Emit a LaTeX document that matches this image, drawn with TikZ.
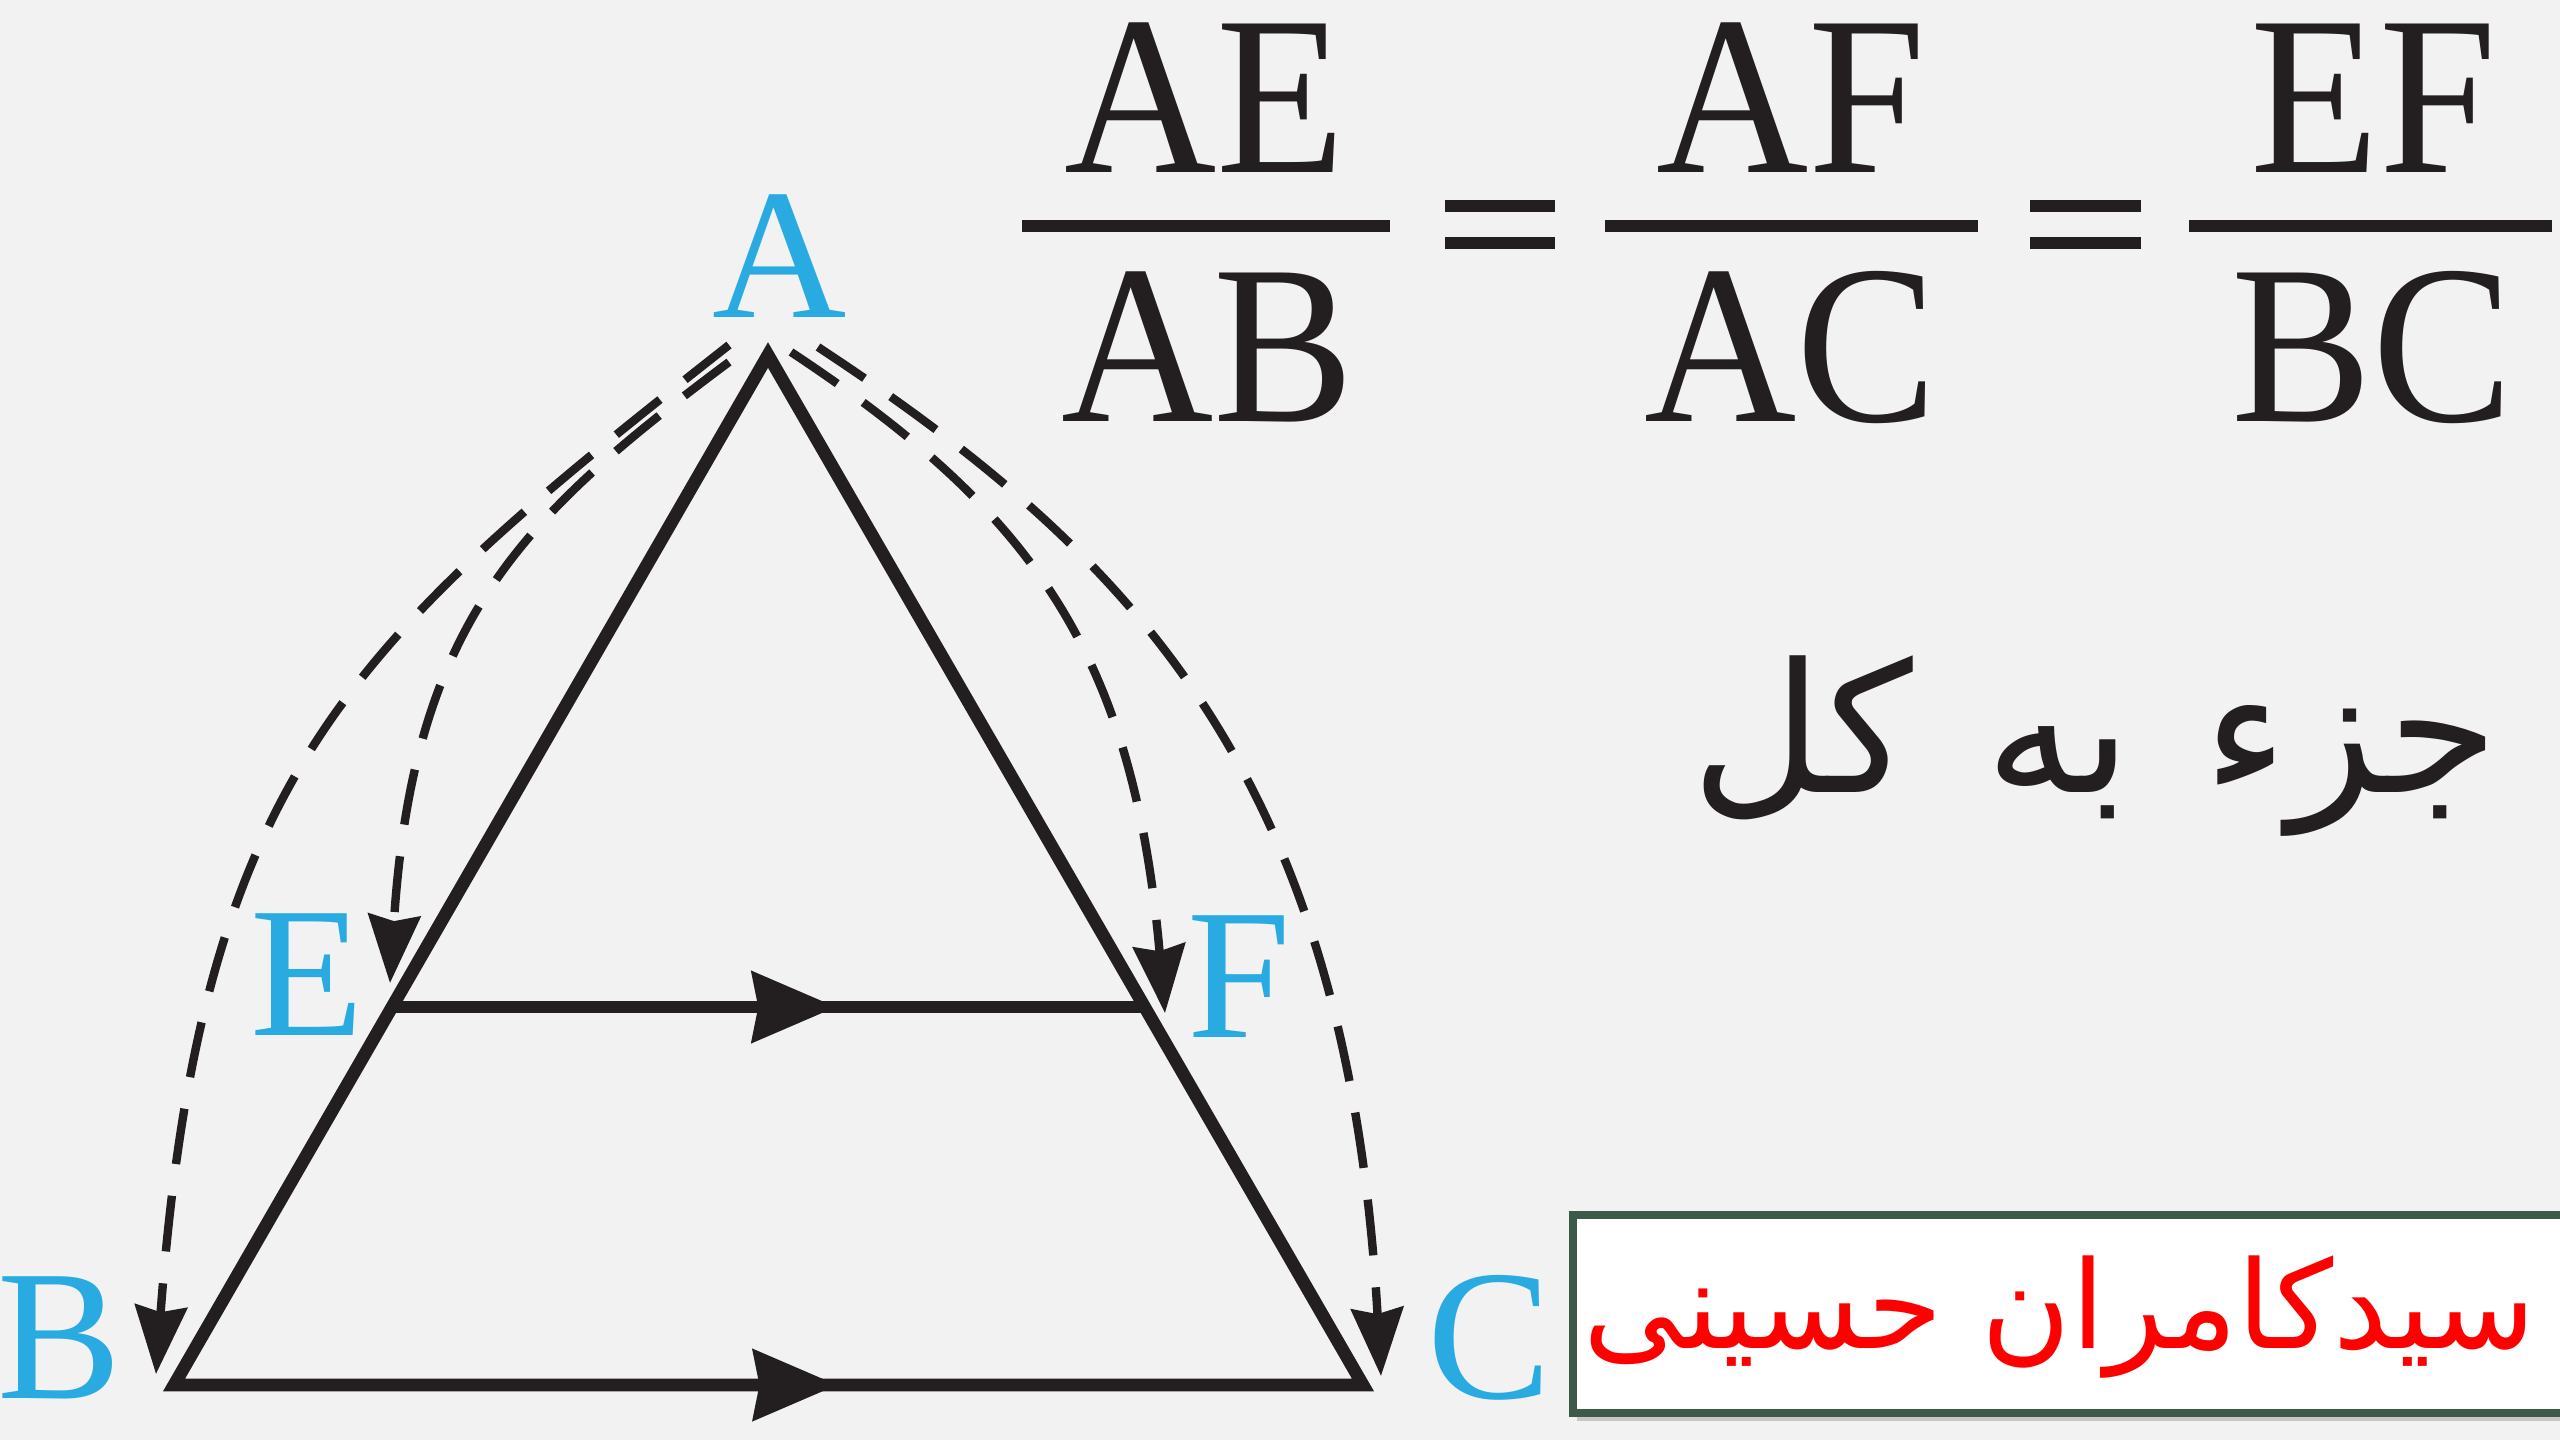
\documentclass[tikz,border=0pt]{standalone}
\usepackage{fontspec}
\usepackage{graphicx}
\usetikzlibrary{arrows.meta,decorations.markings}
\TeXXeTstate=1
\setmainfont{Liberation Serif}
\newfontfamily\arabicfont[Script=Arabic]{DejaVu Sans}
\definecolor{bgc}{HTML}{F2F2F2}
\definecolor{ink}{HTML}{231F20}
\definecolor{ptblue}{HTML}{29ABE2}
\definecolor{boxgreen}{HTML}{3D5A48}
\begin{document}
\begin{tikzpicture}[x=0.25pt,y=-0.25pt,
  ptlabel/.style={text=ptblue, font=\fontsize{46.5pt}{50pt}\selectfont, inner sep=0pt, anchor=base},
  fractxt/.style={text=ink, inner sep=0pt, anchor=base, font=\fontsize{56.7pt}{60pt}\selectfont},
  bar/.style={draw=ink, line width=2.9pt},
  side/.style={draw=ink, line width=3.2pt, line join=miter},
  midarrow/.style={decoration={markings, mark=at position #1 with {\arrow{Stealth[length=21pt,width=17.5pt,inset=1.5pt]}}}, postaction={decorate}},
  dasharc/.style={draw=ink, line width=2.1pt, dash pattern=on 14pt off 8pt, -{Stealth[length=17pt,width=13pt,inset=1.5pt]}},
]
\clip (0,0) rectangle (2560,1440);
\fill[bgc] (0,0) rectangle (2560,1440);
\useasboundingbox (0,0) rectangle (2560,1440);

% triangle vertices
\coordinate (A) at (768,355);
\coordinate (B) at (174,1385);
\coordinate (C) at (1363,1385);
\coordinate (E) at (392,1007);
\coordinate (F) at (1145,1007);

\draw[side] (A) -- (B) -- (C) -- cycle;
\draw[side, midarrow=0.59] (E) -- (F);
\draw[side, midarrow=0.558] (B) -- (C);

% dashed arcs
\coordinate (oL) at (729,345);
\coordinate (iL) at (729,362);
\coordinate (iR) at (791,352);
\coordinate (oR) at (818,347);
\coordinate (tB) at (156,1374);
\coordinate (tE) at (390,983);
\coordinate (tF) at (1165,1013);
\coordinate (tC) at (1381,1376);
\draw[dasharc] (oL) .. controls (350,643) and (201,774) .. (tB);
\draw[dasharc] (iL) .. controls (520,518) and (413,623) .. (tE);
\draw[dasharc] (iR) .. controls (1033,512) and (1133,653) .. (tF);
\draw[dasharc] (oR) .. controls (1135,556) and (1347,776) .. (tC);

% labels
\node[ptlabel] (lA) at (780,317) {A};
\node[ptlabel] (lE) at (307,1035) {E};
\node[ptlabel] (lF) at (1239,1037) {F};
\node[ptlabel] (lB) at (60,1398) {B};
\node[ptlabel] (lC) at (1490,1398) {C};

% fractions
\node[fractxt] (n1) at (1205,172) {\scalebox{0.93}[1]{AE}};
\node[fractxt] (d1) at (1208,421) {\scalebox{0.93}[1]{AB}};
\node[fractxt] (n2) at (1791,172) {\scalebox{0.93}[1]{AF}};
\node[fractxt] (d2) at (1791,421) {\scalebox{0.93}[1]{AC}};
\node[fractxt] (n3) at (2374,172) {\scalebox{0.93}[1]{EF}};
\node[fractxt] (d3) at (2372,421) {\scalebox{0.93}[1]{BC}};
\draw[bar] (1022,226) -- (1390,226);
\draw[bar] (1605,226) -- (1978,226);
\draw[bar] (2189,226) -- (2552,226);
\draw[bar] (1445,206) -- (1555,206);
\draw[bar] (1445,243) -- (1555,243);
\draw[bar] (2030,206) -- (2141,206);
\draw[bar] (2030,243) -- (2141,243);

% Persian caption
\node[text=ink, inner sep=0pt, anchor=base east, font=\arabicfont\fontsize{45pt}{48pt}\selectfont] (cap) at (2500,792) {\beginR جزء\hspace{18pt}به\hspace{18pt}کل\endR};

% name box
\fill[black!22] (1577,1221) rectangle (2600,1421);
\draw[boxgreen, line width=2pt, fill=white] (1573,1215) rectangle (2600,1413);
\node[text=red, inner sep=0pt, anchor=base east, font=\arabicfont\fontsize{30.5pt}{34pt}\selectfont] (name) at (2537,1348) {\beginR سیدکامران حسینی\endR};
\end{tikzpicture}
\end{document}
